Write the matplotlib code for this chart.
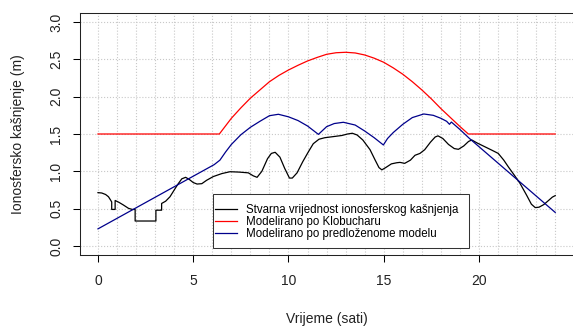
import numpy as np
import matplotlib
matplotlib.use('Agg')
from matplotlib import pyplot as plt
from matplotlib.patches import Rectangle

# Stvarna vrijednost ionosferskog kasnjenja (m)
real_t = [0.00, 0.20, 0.40, 0.55, 0.65, 0.72, 0.72, 0.90, 0.90, 1.10, 1.33, 1.60, 1.80, 1.95,
          1.95, 3.04, 3.04, 3.34, 3.34, 3.55, 3.78, 4.00, 4.20, 4.40, 4.60, 4.80, 5.00, 5.20,
          5.45, 5.70, 6.05, 6.50, 6.93, 7.40, 7.89, 8.15, 8.35, 8.60, 8.90, 9.10, 9.30, 9.55,
          9.80, 10.05, 10.20, 10.45, 10.75, 11.04, 11.30, 11.60, 11.90, 12.35, 12.80, 13.10,
          13.35, 13.60, 13.90, 14.28, 14.55, 14.75, 14.90, 15.10, 15.40, 15.68, 15.85, 16.10,
          16.40, 16.64, 16.90, 17.15, 17.45, 17.70, 17.85, 18.10, 18.40, 18.70, 18.92, 19.20,
          19.45, 19.62, 19.90, 20.30, 20.70, 21.01, 21.30, 21.54, 21.85, 22.15, 22.50, 22.75,
          22.95, 23.15, 23.40, 23.65, 23.85, 24.00]
real_v = [0.715, 0.71, 0.69, 0.66, 0.62, 0.59, 0.49, 0.49, 0.61, 0.585, 0.55, 0.505, 0.49, 0.49,
          0.335, 0.335, 0.48, 0.48, 0.57, 0.60, 0.66, 0.75, 0.83, 0.90, 0.92, 0.89, 0.85, 0.83,
          0.835, 0.88, 0.93, 0.97, 0.995, 0.99, 0.98, 0.94, 0.92, 1.00, 1.17, 1.24, 1.255, 1.19,
          1.04, 0.91, 0.91, 0.98, 1.13, 1.26, 1.37, 1.43, 1.45, 1.465, 1.48, 1.50,
          1.51, 1.487, 1.42, 1.29, 1.15, 1.05, 1.02, 1.05, 1.10, 1.115, 1.12, 1.107,
          1.15, 1.215, 1.24, 1.29, 1.39, 1.46, 1.475, 1.44, 1.36, 1.305, 1.295, 1.34,
          1.40, 1.42, 1.38, 1.33, 1.28, 1.24, 1.15, 1.06, 0.95, 0.84, 0.68, 0.56,
          0.515, 0.52, 0.555, 0.61, 0.655, 0.675]

# Klobuchar model
klob_t = [0, 6.37, 7, 7.5, 8, 8.5, 9, 9.5, 10, 10.5, 11, 11.5, 12, 12.5, 13, 13.5, 14, 14.5,
          15, 15.5, 16, 16.5, 17, 17.5, 18, 18.5, 19, 19.44, 24]
klob_v = [1.5, 1.5, 1.71, 1.85, 1.98, 2.09, 2.20, 2.285, 2.357, 2.42, 2.478, 2.525, 2.567,
          2.588, 2.594, 2.585, 2.558, 2.515, 2.46, 2.385, 2.30, 2.20, 2.09, 1.97, 1.84, 1.72,
          1.60, 1.5, 1.5]

# predlozeni model
model_t = [0, 6.1, 6.4, 6.7, 7.0, 7.5, 8.0, 8.5, 9.0, 9.47, 10.0, 10.5, 11.0, 11.57, 12.0,
           12.4, 12.88, 13.5, 14.0, 14.5, 14.98, 15.2, 15.5, 16.0, 16.5, 17.1, 17.6, 18.0,
           18.3, 18.45, 18.55, 19.0, 19.5, 24.0]
model_v = [0.23, 1.09, 1.15, 1.26, 1.36, 1.49, 1.59, 1.67, 1.745, 1.764, 1.73, 1.68, 1.607,
           1.495, 1.598, 1.64, 1.657, 1.62, 1.54, 1.45, 1.353, 1.44, 1.52, 1.63, 1.72, 1.768,
           1.75, 1.71, 1.67, 1.63, 1.66, 1.56, 1.44, 0.45]

labels = ['Stvarna vrijednost ionosferskog kašnjenja',
          'Modelirano po Klobucharu',
          'Modelirano po predloženome modelu']

plt.rcParams['font.family'] = ['Liberation Sans', 'DejaVu Sans']

W, H = 573, 329
fig = plt.figure(figsize=(W / 100, H / 100), dpi=100)
ax = fig.add_axes([79.7 / W, (H - 255) / H, (573.5 - 79.7) / W, 242 / H])

ax.set_xlim(-0.96, 24.96)
ax.set_ylim(-0.12, 3.12)

ax.set_xticks([0, 5, 10, 15, 20])
ax.set_xticks(np.arange(0, 25), minor=True)
ax.set_yticks(np.arange(0, 3.01, 0.5))
ax.set_yticklabels([f'{v:.1f}' for v in np.arange(0, 3.01, 0.5)], rotation=90, va='center')
ax.tick_params(which='major', length=5, width=0.75, labelsize=10, pad=9,
               labelcolor='#222222')
ax.tick_params(axis='y', pad=7)
ax.tick_params(which='minor', length=0)

ax.grid(True, which='both', axis='x', color='#c8c8c8', linestyle=':', linewidth=0.8)
ax.grid(True, which='major', axis='y', color='#c8c8c8', linestyle=':', linewidth=0.8)
ax.set_axisbelow(True)
for s in ax.spines.values():
    s.set_linewidth(0.75)
    s.set_color('#222222')

l1, = ax.plot(real_t, real_v, color='black', lw=0.9)
l2, = ax.plot(klob_t, klob_v, color='red', lw=0.9)
l3, = ax.plot(model_t, model_v, color='darkblue', lw=0.9)

ax.set_xlabel('Vrijeme (sati)', fontsize=10, va='center', color='#222222')
ax.xaxis.set_label_coords(0.5, (255 - 319) / 242)
ax.set_ylabel('Ionosfersko kašnjenje (m)', fontsize=10, va='center', color='#222222')
ax.yaxis.set_label_coords((18 - 79.7) / 493.8, 0.5)

# legend box
fig.patches.append(Rectangle((212.7 / W, (H - 248.3) / H), (469.3 - 212.7) / W, 54.3 / H,
                             transform=fig.transFigure, facecolor='white',
                             edgecolor='#333333', lw=0.75, zorder=5))
leg = fig.legend([l1, l2, l3], labels, loc='center left',
                 bbox_to_anchor=(215 / W, (H - 221.8) / H), frameon=False,
                 fontsize=8.3, borderpad=0, borderaxespad=0, handlelength=1.9,
                 handletextpad=0.8, labelspacing=0.0)
leg.set_zorder(6)

fig.savefig('out.png', dpi=100)
